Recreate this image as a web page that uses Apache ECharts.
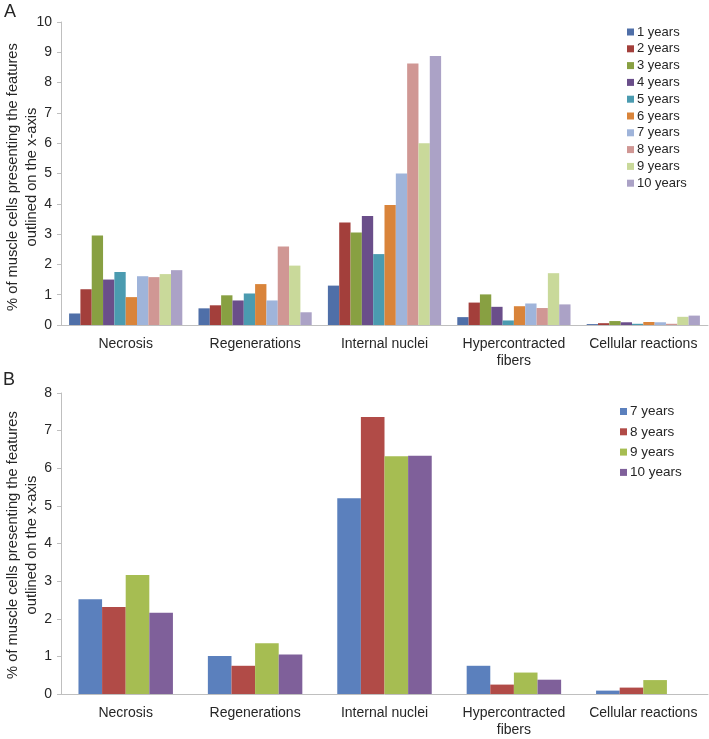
<!DOCTYPE html>
<html>
<head>
<meta charset="utf-8">
<script src="https://cdn.jsdelivr.net/npm/echarts@6/dist/echarts.min.js"></script>
<style>
html,body{margin:0;padding:0;background:#fff;}
#a{position:absolute;left:0;top:0;width:709px;height:370px;}
#b{position:absolute;left:0;top:370px;width:709px;height:369px;}
</style>
</head>
<body>
<div id="a"></div>
<div id="b"></div>
<script>
const categories = ['Necrosis', 'Regenerations', 'Internal nuclei', 'Hypercontracted\nfibers', 'Cellular reactions'];

// Panel A
const namesA = ['1 years','2 years','3 years','4 years','5 years','6 years','7 years','8 years','9 years','10 years'];
const y1A  = [0.38, 0.55, 1.30, 0.26, 0.03];
const y2A  = [1.18, 0.65, 3.38, 0.74, 0.06];
const y3A  = [2.95, 0.98, 3.05, 1.01, 0.13];
const y4A  = [1.50, 0.81, 3.60, 0.60, 0.09];
const y5A  = [1.75, 1.04, 2.34, 0.15, 0.04];
const y6A  = [0.92, 1.35, 3.96, 0.62, 0.10];
const y7A  = [1.61, 0.81, 5.00, 0.71, 0.09];
const y8A  = [1.58, 2.59, 8.63, 0.56, 0.04];
const y9A  = [1.68, 1.96, 6.00, 1.71, 0.27];
const y10A = [1.81, 0.42, 8.88, 0.68, 0.31];
const valuesA = [y1A,y2A,y3A,y4A,y5A,y6A,y7A,y8A,y9A,y10A];
const colorsA = ['#4F6FA8','#A33F3B','#88A042','#6A4E8A','#4B9BB0','#D9843A','#9FB4DA','#D09794','#C9D99A','#ABA2C6'];
const ticksA = {min:0, max:10, interval:1};

// Panel B
const namesB = ['7 years','8 years','9 years','10 years'];
const y7B  = [2.52, 1.01, 5.20, 0.75, 0.09];
const y8B  = [2.31, 0.75, 7.36, 0.25, 0.17];
const y9B  = [3.16, 1.35, 6.32, 0.57, 0.37];
const y10B = [2.16, 1.05, 6.33, 0.38, 0];
const valuesB = [y7B,y8B,y9B,y10B];
const colorsB = ['#5B80BD','#B14B47','#A6BD52','#7F609A'];
const ticksB = {min:0, max:8, interval:1};

const FONT = '"Liberation Sans", Arial, sans-serif';
const axisColor = '#BFBFBF';

function makeOption(names, values, colors, ticks, cfg){
  return {
    animation:false,
    textStyle:{fontFamily:FONT},
    grid:{left:61, top:cfg.top, width:647, height:cfg.height},
    xAxis:{
      type:'category', data:categories,
      axisLine:{lineStyle:{color:axisColor, width:1}},
      axisTick:{show:false},
      axisLabel:{color:'#262626', fontSize:14, fontFamily:FONT, margin:11, interval:0, lineHeight:17}
    },
    yAxis:{
      type:'value', min:ticks.min, max:ticks.max, interval:ticks.interval,
      splitLine:{show:false},
      axisLine:{show:true, lineStyle:{color:axisColor, width:1}},
      axisTick:{show:true, length:4, lineStyle:{color:axisColor}},
      axisLabel:{color:'#262626', fontSize:14, fontFamily:FONT, margin:9}
    },
    legend:{
      orient:'vertical', left:cfg.legLeft, top:cfg.legTop,
      itemWidth:cfg.itemW, itemHeight:cfg.itemW, itemGap:cfg.itemGap,
      icon:'rect',
      textStyle:{color:'#262626', fontSize:cfg.legFont, lineHeight:cfg.legLH, fontFamily:FONT, padding:[0,0,0,-2]},
      data:names
    },
    graphic:[
      {type:'text', left:cfg.letterX, top:cfg.letterY, style:{text:cfg.letter, fontSize:18, fontFamily:FONT, fill:'#262626'}},
      {type:'text', x:cfg.titleX, y:cfg.titleY, rotation:Math.PI/2,
       style:{text:'% of muscle cells presenting the features\noutlined on the x-axis', fontSize:14.7, lineHeight:19,
              fontFamily:FONT, fill:'#262626', align:'center', verticalAlign:'middle'}}
    ],
    series:names.map((n,i)=>({
      name:n, type:'bar', data:values[i], barGap:'0%', barCategoryGap:cfg.catGap,
      itemStyle:{color:colors[i]}
    }))
  };
}

const ca = echarts.init(document.getElementById('a'));
ca.setOption(makeOption(namesA, valuesA, colorsA, ticksA, {
  top:22, height:310, legLeft:622, legTop:20, itemW:7, itemGap:2.8, legFont:13, legLH:14,
  letter:'A', letterX:4, letterY:3, titleX:22, titleY:177, catGap:'12.5%'
}));
const cb = echarts.init(document.getElementById('b'));
cb.setOption(makeOption(namesB, valuesB, colorsB, ticksB, {
  top:23, height:307, legLeft:615, legTop:29, itemW:7, itemGap:5.3, legFont:13.5, legLH:15,
  letter:'B', letterX:3, letterY:1, titleX:22, titleY:175, catGap:'27%'
}));
</script>
</body>
</html>
